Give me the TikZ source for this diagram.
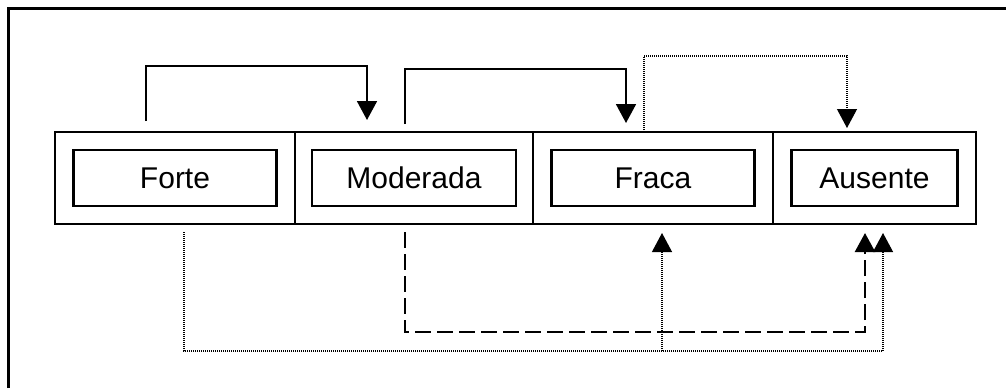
\documentclass[tikz,border=0pt]{standalone}
\usepackage{fontspec}
\setmainfont{Liberation Sans}
\usetikzlibrary{arrows.meta,positioning}

\begin{document}
\begin{tikzpicture}[x=0.5pt,y=0.5pt,
  >={Triangle[width=10pt,length=9.5pt]},
  cell/.style={draw,line width=1pt,minimum height=46pt,inner sep=0pt,outer sep=0pt},
  grade/.style={draw,line width=1.2pt,minimum height=28pt,inner sep=0pt,
    font=\fontsize{15}{18}\selectfont},
  strong/.style={line width=0.9pt,->},
  moder/.style={line width=1.2pt,dash pattern=on 8pt off 3pt,->},
  weak/.style={line width=0.6pt,dash pattern=on 0.5pt off 0.5pt,->}]
       \useasboundingbox (0,0) rectangle (1006,388);
       \draw[line width=1.5pt] (8,0) |- (1006,379.5);
       % cells
       \node[cell,minimum width=120pt] (cforte) at (175,210) {};
       \node[cell,minimum width=119pt,right=0pt of cforte] (cmoderada) {};
       \node[cell,minimum width=120pt,right=0pt of cmoderada] (cfraca) {};
       \node[cell,minimum width=101.5pt,right=0pt of cfraca] (causente) {};
       \node[grade,minimum width=101.5pt] (forte) at (cforte) {Forte};
       \node[grade,minimum width=102pt] (moderada) at (cmoderada) {Moderada};
       \node[grade,minimum width=101.5pt] (fraca) at (cfraca) {Fraca};
       \node[grade,minimum width=83pt] (ausente) at (causente) {Ausente};
       % upper arrows
       \draw[strong] ([shift={(-29,11)}]cforte.north) -- ++(0,55)
         -| ([shift={(-47,12)}]cmoderada.north);
       \draw[strong] ([shift={(-9,8)}]cmoderada.north) -- ++(0,55)
         -| ([shift={(-27,9)}]cfraca.north);
       \draw[weak] ([shift={(-9,0)}]cfraca.north) -- ++(0,76)
         -| ([shift={(-27.5,4)}]causente.north);
       % lower arrows
       \draw[moder] ([shift={(-9,-8)}]cmoderada.south) -- ++(0,-100)
         -| ([shift={(-9.5,-9)}]causente.south);
       \draw[weak] ([shift={(9,-8)}]cforte.south) -- ++(0,-119)
         -| ([shift={(8.5,-9)}]causente.south);
       \coordinate (split) at ([shift={(9,-127)}]cfraca.south);
       \draw[weak] (split) -- ([shift={(9,-9)}]cfraca.south);
\end{tikzpicture}
\end{document}
